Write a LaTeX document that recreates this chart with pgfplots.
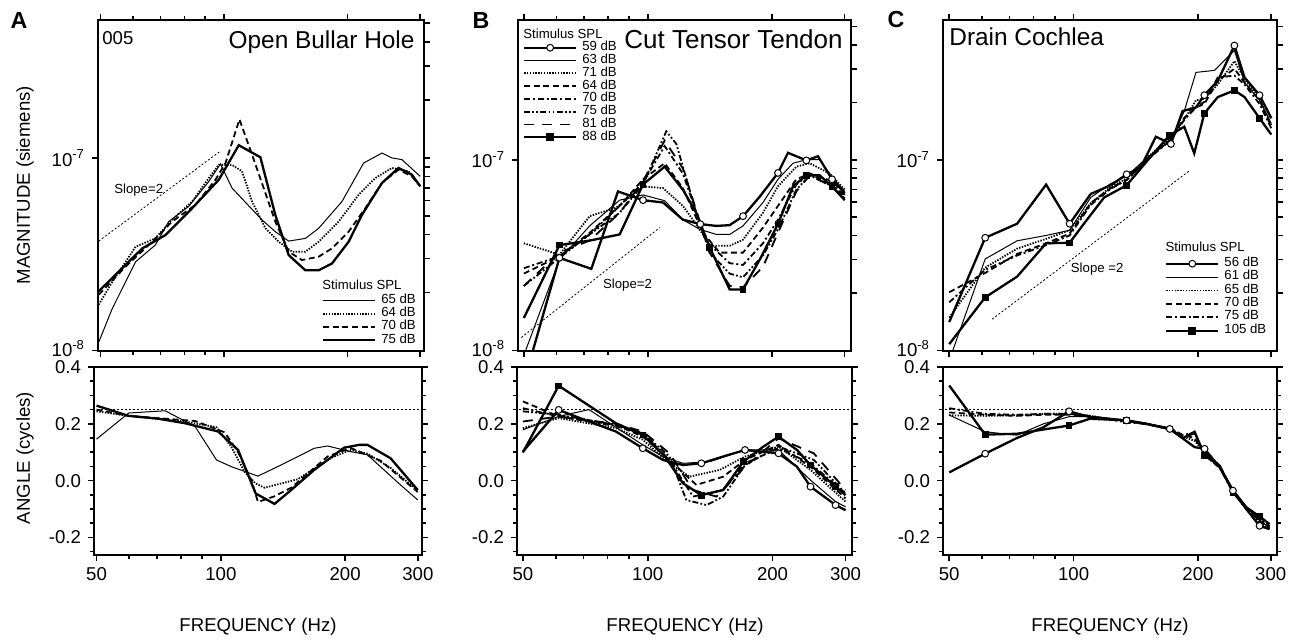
\documentclass[border=0pt]{standalone}
\usepackage{fontspec}
\setmainfont{Liberation Sans}
\usepackage{pgfplots}
\pgfplotsset{compat=1.18}
\tikzset{
  lthin/.style={black, line width=0.5pt},
  lthick/.style={black, line width=1.15pt},
  ldot/.style={black, line width=0.9pt, dash pattern=on 0.7pt off 0.7pt},
  ldash/.style={black, line width=0.9pt, dash pattern=on 3pt off 1.8pt},
  ldashdot/.style={black, line width=0.9pt, dash pattern=on 3pt off 1.4pt on 1pt off 1.4pt},
  ldashdotdot/.style={black, line width=0.9pt, dash pattern=on 3pt off 1.1pt on 0.9pt off 1.1pt on 0.9pt off 1.1pt},
  llong/.style={black, line width=0.9pt, dash pattern=on 5pt off 4pt},
  lref/.style={black, line width=0.4pt, dash pattern=on 1pt off 1pt},
}
\pgfplotsset{
  lcircm/.style={mark=*, mark size=1.7pt, mark options={solid, fill=white, line width=0.5pt}},
  lsqm/.style={mark=square*, mark size=1.4pt, mark options={solid, fill=black}},
  circleg/.style={legend image code/.code={\draw[black, line width=1.15pt] (0pt,0pt) -- (26pt,0pt); \draw[black, fill=white, line width=0.5pt] (13pt,0pt) circle[radius=1.7pt];}},
  squareleg/.style={legend image code/.code={\draw[black, line width=1.15pt] (0pt,0pt) -- (26pt,0pt); \fill[black] (11.6pt,-1.4pt) rectangle (14.4pt,1.4pt);}},
}
\begin{document}
\begin{tikzpicture}
\useasboundingbox (0pt,0pt) rectangle (652pt,319.5pt);

% ---------------- Panel A top ----------------
\begin{axis}[scale only axis, at={(49pt,144.25pt)}, anchor=south west, width=163pt, height=165.25pt,
  xmode=log, ymode=log, xmin=49.3, xmax=307, ymin=1e-8, ymax=5.2e-7,
  axis line style={line width=1pt}, tick style={black, line width=0.8pt},
  tick align=outside, major tick length=3pt, minor tick length=2pt,
  tick label style={font=\fontsize{9.3}{10}\selectfont},
  xtick={50,100,200,300}, minor xtick={60,70,80,90}, xtick pos=both, xticklabels={},
  ytick={1e-8,1e-7}, yticklabels={\raisebox{2pt}{10\textsuperscript{-8}},10\textsuperscript{-7}}, yminorticks=false, ytick pos=left,
  extra y ticks={2e-8,3e-8,4e-8,5e-8,6e-8,7e-8,8e-8,9e-8,1e-7,2e-7,3e-7,4e-7,5e-7}, extra y tick labels={},
  extra y tick style={ytick pos=right},
  legend cell align=left,
  legend image code/.code={\draw[#1] (0pt,0pt) -- (26pt,0pt);},
  legend style={draw=none, fill=none, inner sep=0pt, outer sep=0pt, font=\fontsize{6.6}{6.6}\selectfont, row sep=0pt, column sep=2.5pt, nodes={inner sep=0pt, text height=4.7pt, text depth=1.85pt}, anchor=north west, at={(0.687,0.170)}}]
\addplot[lref, forget plot] coordinates {(49.5,3.7e-8) (97.7,1.08e-7)};
\addplot[lthin] coordinates {(49.5,1.105e-8) (53.4,1.65e-8) (60.9,2.89e-8) (68.0,3.53e-8) (73.3,4.67e-8) (82.0,5.6e-8) (91.8,7.55e-8) (98.0,9.3e-8) (104.6,6.97e-8) (123.7,4.77e-8) (133.3,4.14e-8) (143.7,3.7e-8) (157.8,3.82e-8) (170.0,4.31e-8) (193.8,5.94e-8) (218.7,9.4e-8) (242.5,1.06e-7) (256.4,1.0e-7) (271.2,9.8e-8) (300.6,8.02e-8)};
\addlegendentry{65 dB}
\addplot[ldot] coordinates {(49.5,1.73e-8) (53.4,2.27e-8) (60.9,3.46e-8) (68.0,3.82e-8) (74.7,4.77e-8) (83.6,5.94e-8) (91.8,7.86e-8) (97.1,9.2e-8) (104.6,9.2e-8) (110.6,8.52e-8) (117.0,5.94e-8) (126.1,4.31e-8) (135.9,3.67e-8) (146.4,3.26e-8) (157.8,3.26e-8) (170.0,3.67e-8) (190.2,4.67e-8) (212.8,6.44e-8) (233.6,7.86e-8) (256.4,8.87e-8) (281.5,8.52e-8) (300.6,7.12e-8)};
\addlegendentry{64 dB}
\addplot[ldash] coordinates {(49.5,1.95e-8) (57.5,2.72e-8) (66.8,3.67e-8) (74.7,4.67e-8) (85.2,5.71e-8) (95.3,7.71e-8) (100.8,9.4e-8) (109.0,1.585e-7) (117.0,1.04e-7) (133.3,4.67e-8) (143.7,3.26e-8) (154.8,2.95e-8) (170.0,3.07e-8) (183.2,3.39e-8) (201.1,4.14e-8) (220.8,5.48e-8) (242.5,7.41e-8) (266.1,8.69e-8) (286.8,8.02e-8) (300.6,7.12e-8)};
\addlegendentry{70 dB}
\addplot[lthick] coordinates {(49.5,2.03e-8) (57.5,2.78e-8) (63.2,3.39e-8) (72.0,3.98e-8) (83.6,5.48e-8) (97.1,7.71e-8) (108.6,1.164e-7) (122.6,1.008e-7) (133.3,5.06e-8) (143.7,3.13e-8) (157.8,2.61e-8) (170.0,2.61e-8) (183.2,2.83e-8) (201.1,3.67e-8) (216.7,5.06e-8) (242.5,7.41e-8) (266.1,8.87e-8) (286.8,8.18e-8) (300.6,7.12e-8)};
\addlegendentry{75 dB}
\node[font=\fontsize{6.6}{7}\selectfont, anchor=base west, inner sep=0pt] at (rel axis cs:0.687,0.184) {Stimulus SPL};
\node[font=\fontsize{6.6}{7}\selectfont, anchor=base west, inner sep=0pt] at (axis cs:53.9,6.57e-8) {Slope=2};
\node[font=\fontsize{9.3}{10}\selectfont, anchor=base west, inner sep=0pt] at (rel axis cs:0.012,0.927) {005};
\node[font=\fontsize{12.2}{13}\selectfont, anchor=base east, inner sep=0pt] at (rel axis cs:0.972,0.914) {Open Bullar Hole};
\end{axis}

% ---------------- Panel A bottom ----------------
\begin{axis}[scale only axis, at={(47pt,42.25pt)}, anchor=south west, width=164pt, height=93.75pt,
  xmode=log, xmin=49.3, xmax=307, ymin=-0.26, ymax=0.4,
  axis line style={line width=1pt}, tick style={black, line width=0.8pt},
  tick align=outside, major tick length=3pt, minor tick length=2pt,
  tick label style={font=\fontsize{9.3}{10}\selectfont},
  xtick={50,100,200,300}, minor xtick={60,70,80,90}, xtick pos=bottom, xticklabels={50,100,200,300},
  ytick={-0.2,0,0.2,0.4}, yticklabels={-0.2,0.0,0.2,0.4},
  minor ytick={-0.25,-0.15,-0.1,-0.05,0.05,0.1,0.15,0.25,0.3,0.35}, ytick pos=both, yticklabel pos=left]
\addplot[lref] coordinates {(40,0.25) (320,0.25)};
\addplot[lthin] coordinates {(50,0.146) (59.8,0.238) (73.3,0.246) (86.6,0.191) (97.6,0.073) (106.1,0.049) (123.0,0.016) (142.6,0.061) (168.4,0.114) (181.4,0.122) (206.4,0.102) (226.4,0.091) (272.3,-0.015) (299.8,-0.068)};
\addplot[ldot] coordinates {(50,0.244) (59.8,0.228) (81.9,0.208) (97.6,0.188) (106.1,0.118) (114.3,0.03) (121.4,-0.01) (127.6,-0.025) (153.6,0.005) (184.7,0.08) (206.4,0.108) (226.4,0.095) (257.6,0.045) (299.8,-0.035)};
\addplot[ldash] coordinates {(50,0.25) (59.8,0.228) (86.6,0.21) (102.2,0.17) (110.1,0.10) (118.6,0.0) (123.0,-0.075) (134.9,-0.055) (148.0,-0.025) (181.4,0.085) (206.4,0.115) (243.8,0.07) (299.8,-0.04)};
\addplot[lthick] coordinates {(50,0.264) (59.8,0.228) (70.6,0.218) (81.9,0.202) (98.5,0.173) (110.1,0.108) (121.4,-0.045) (134.9,-0.082) (148.0,-0.033) (168.4,0.038) (198.9,0.116) (216.2,0.126) (226.4,0.126) (257.6,0.079) (299.8,-0.033)};
\end{axis}

% ---------------- Panel B top ----------------
\begin{axis}[scale only axis, at={(259pt,144.25pt)}, anchor=south west, width=166.5pt, height=165.25pt,
  xmode=log, ymode=log, xmin=48.4, xmax=311, ymin=1e-8, ymax=5.4e-7,
  axis line style={line width=1pt}, tick style={black, line width=0.8pt},
  tick align=outside, major tick length=3pt, minor tick length=2pt,
  tick label style={font=\fontsize{9.3}{10}\selectfont},
  xtick={50,100,200,300}, minor xtick={60,70,80,90}, xtick pos=both, xticklabels={},
  ytick={1e-8,1e-7}, yticklabels={\raisebox{2pt}{10\textsuperscript{-8}},10\textsuperscript{-7}}, yminorticks=false, ytick pos=left,
  extra y ticks={2e-8,3e-8,4e-8,5e-8,6e-8,7e-8,8e-8,9e-8,1e-7,2e-7,3e-7,4e-7,5e-7}, extra y tick labels={},
  extra y tick style={ytick pos=right},
  legend cell align=left,
  legend image code/.code={\draw[#1] (0pt,0pt) -- (26pt,0pt);},
  legend style={draw=none, fill=none, inner sep=0pt, outer sep=0pt, font=\fontsize{6.6}{6.6}\selectfont, row sep=0pt, column sep=2.5pt, nodes={inner sep=0pt, text height=4.7pt, text depth=1.7pt}, anchor=north west, at={(0.015,0.9356)}}]
\addplot[lref, forget plot] coordinates {(49.3,1.17e-8) (106.8,4.41e-8)};
\addplot[lthick, circleg] coordinates {(52.6,1.0e-8) (61.0,3.06e-8) (72.9,2.68e-8) (84.6,6.82e-8) (97.3,6.14e-8) (108.8,5.97e-8) (121.6,4.85e-8) (134.0,4.6e-8) (146.5,4.5e-8) (157.9,4.54e-8) (170.1,5.06e-8) (186.7,6.4e-8) (206.8,8.53e-8) (218.7,1.087e-7) (242.3,9.92e-8) (258.6,1.043e-7) (279.7,7.9e-8) (300.2,6.68e-8)};
\addlegendentry{59 dB}
\addplot[lthin] coordinates {(50.5,1.0e-8) (61.0,2.99e-8) (72.2,4.5e-8) (85.4,6.14e-8) (97.3,6.54e-8) (109.8,6.1e-8) (121.6,4.85e-8) (133.5,4.32e-8) (146.5,4.06e-8) (157.9,4.06e-8) (170.1,4.5e-8) (190.2,5.97e-8) (206.8,7.9e-8) (224.9,9.59e-8) (242.3,1.0e-7) (261.0,1.0e-7) (279.7,8.11e-8) (300.2,6.82e-8)};
\addlegendentry{63 dB}
\addplot[ldot] coordinates {(50,3.65e-8) (61.0,3.18e-8) (72.2,5.06e-8) (83.8,5.61e-8) (97.3,7.26e-8) (108.8,7.1e-8) (121.6,5.73e-8) (133.5,4.32e-8) (141.2,3.54e-8) (157.9,3.54e-8) (170.1,3.81e-8) (190.2,5.27e-8) (206.8,7.26e-8) (229.1,9.2e-8) (246.9,9.59e-8) (276.1,8.46e-8) (300.2,6.96e-8)};
\addlegendentry{71 dB}
\addplot[ldash] coordinates {(50,2.53e-8) (61.0,3.12e-8) (72.2,4.14e-8) (85.4,5.73e-8) (97.3,7.9e-8) (109.8,9.59e-8) (121.6,7.1e-8) (136.0,4.14e-8) (149.3,3.26e-8) (170.1,3.26e-8) (190.2,4.41e-8) (206.8,5.73e-8) (229.1,7.9e-8) (246.9,8.46e-8) (279.7,7.73e-8) (300.2,6.54e-8)};
\addlegendentry{64 dB}
\addplot[ldashdot] coordinates {(50,2.7e-8) (61.0,3.12e-8) (72.2,4.06e-8) (85.4,5.73e-8) (97.3,7.57e-8) (109.8,1.18e-7) (121.6,8.46e-8) (138.6,3.72e-8) (157.9,2.87e-8) (170.1,2.81e-8) (190.2,3.65e-8) (206.8,4.85e-8) (229.1,7.42e-8) (246.9,8.39e-8) (279.7,7.42e-8) (300.2,6.4e-8)};
\addlegendentry{70 dB}
\addplot[ldashdotdot] coordinates {(50,2.18e-8) (61.0,3.06e-8) (72.2,4.06e-8) (85.4,5.27e-8) (97.3,7.42e-8) (110.8,1.41e-7) (117.2,1.21e-7) (131.0,5.27e-8) (141.2,3.26e-8) (157.9,2.53e-8) (170.1,2.42e-8) (190.2,3.15e-8) (206.8,4.32e-8) (229.1,6.96e-8) (246.9,8.28e-8) (279.7,7.26e-8) (300.2,6.27e-8)};
\addlegendentry{75 dB}
\addplot[llong] coordinates {(50,2.18e-8) (61.0,3.26e-8) (72.2,3.77e-8) (85.4,5.27e-8) (97.3,7.73e-8) (109.8,1.26e-7) (121.6,9.0e-8) (141.2,3.26e-8) (157.9,2.18e-8) (170.1,2.14e-8) (190.2,2.75e-8) (206.8,4.14e-8) (229.1,6.82e-8) (246.9,8.28e-8) (279.7,7.26e-8) (300.2,6.14e-8)};
\addlegendentry{81 dB}
\addplot[lthick, squareleg] coordinates {(50,1.48e-8) (61.0,3.57e-8) (72.2,3.77e-8) (85.4,4.06e-8) (97.3,7.42e-8) (109.8,9.2e-8) (121.6,6.96e-8) (131.0,5.27e-8) (141.2,3.47e-8) (157.9,2.09e-8) (170.1,2.09e-8) (186.7,2.99e-8) (206.8,4.6e-8) (224.9,7.26e-8) (242.3,8.28e-8) (261.0,8.28e-8) (279.7,7.26e-8) (300.2,6.14e-8)};
\addlegendentry{88 dB}
\addplot[lcircm, only marks, forget plot] coordinates {(61.0,3.06e-8) (97.3,6.14e-8) (134.0,4.6e-8) (170.1,5.06e-8) (206.8,8.53e-8) (242.3,9.92e-8) (279.7,7.9e-8)};
\addplot[lsqm, only marks, forget plot] coordinates {(61.0,3.57e-8) (97.3,7.42e-8) (141.2,3.47e-8) (170.1,2.09e-8) (206.8,4.6e-8) (242.3,8.28e-8) (279.7,7.26e-8)};
\node[font=\fontsize{6.6}{7}\selectfont, anchor=base west, inner sep=0pt] at (rel axis cs:0.015,0.944) {Stimulus SPL};
\node[font=\fontsize{6.6}{7}\selectfont, anchor=base west, inner sep=0pt] at (axis cs:77.7,2.11e-8) {Slope=2};
\node[font=\fontsize{13}{14}\selectfont, anchor=base east, inner sep=0pt] at (rel axis cs:0.976,0.914) {Cut Tensor Tendon};
\end{axis}

% ---------------- Panel B bottom ----------------
\begin{axis}[scale only axis, at={(258.5pt,42.25pt)}, anchor=south west, width=167.5pt, height=93.75pt,
  xmode=log, xmin=48.4, xmax=311, ymin=-0.26, ymax=0.4,
  axis line style={line width=1pt}, tick style={black, line width=0.8pt},
  tick align=outside, major tick length=3pt, minor tick length=2pt,
  tick label style={font=\fontsize{9.3}{10}\selectfont},
  xtick={50,100,200,300}, minor xtick={60,70,80,90}, xtick pos=bottom, xticklabels={50,100,200,300},
  ytick={-0.2,0,0.2,0.4}, yticklabels={-0.2,0.0,0.2,0.4},
  minor ytick={-0.25,-0.15,-0.1,-0.05,0.05,0.1,0.15,0.25,0.3,0.35}, ytick pos=both, yticklabel pos=left]
\addplot[lref] coordinates {(40,0.25) (320,0.25)};
\addplot[lthin] coordinates {(50,0.179) (61.0,0.226) (72.2,0.25) (97.3,0.126) (108.8,0.085) (121.6,0.061) (141.2,0.067) (171.7,0.108) (206.8,0.108) (246.9,0.002) (283.9,-0.074) (300,-0.092)};
\addplot[ldot] coordinates {(50,0.185) (61.0,0.22) (83.8,0.185) (97.3,0.144) (112.9,0.061) (126.2,0.014) (149.3,0.038) (171.7,0.085) (206.8,0.12) (246.9,0.038) (300,-0.074)};
\addplot[ldash] coordinates {(50,0.279) (61.0,0.226) (83.8,0.196) (97.3,0.155) (112.9,0.073) (131.0,-0.015) (152.1,0.014) (171.7,0.073) (206.8,0.126) (246.9,0.049) (300,-0.062)};
\addplot[ldashdot] coordinates {(50,0.255) (61.0,0.226) (83.8,0.192) (97.3,0.167) (112.9,0.073) (128.6,-0.056) (152.1,-0.033) (171.7,0.061) (206.8,0.114) (246.9,0.061) (300,-0.045)};
\addplot[ldashdotdot] coordinates {(50,0.244) (61.0,0.232) (83.8,0.196) (97.3,0.167) (112.9,0.085) (123.9,-0.068) (138.6,-0.086) (152.1,-0.056) (171.7,0.055) (206.8,0.12) (251.6,0.073) (300,-0.045)};
\addplot[llong] coordinates {(50,0.208) (61.0,0.226) (83.8,0.2) (97.3,0.173) (112.9,0.096) (128.6,-0.033) (146.5,-0.056) (171.7,0.049) (206.8,0.149) (251.6,0.096) (300,-0.033)};
\addplot[lthick] coordinates {(50,0.102) (61.0,0.249) (72.2,0.208) (83.8,0.173) (97.3,0.114) (108.8,0.073) (121.6,0.055) (134.7,0.061) (152.1,0.085) (171.7,0.108) (206.8,0.096) (229.1,0.049) (246.9,-0.021) (283.9,-0.086) (300,-0.104)};
\addplot[lthick] coordinates {(50,0.099) (61.0,0.334) (83.8,0.202) (97.3,0.161) (109.8,0.087) (121.6,-0.009) (134.7,-0.051) (152.1,-0.033) (170.1,0.067) (190.2,0.12) (206.8,0.155) (229.1,0.108) (246.9,0.055) (283.9,-0.021) (300,-0.051)};
\addplot[lcircm, only marks] coordinates {(61.0,0.249) (97.3,0.114) (134.7,0.061) (171.7,0.108) (206.8,0.096) (246.9,-0.021) (283.9,-0.086)};
\addplot[lsqm, only marks] coordinates {(61.0,0.334) (97.3,0.161) (134.7,-0.051) (170.1,0.067) (206.8,0.155) (246.9,0.055) (283.9,-0.021)};
\end{axis}

% ---------------- Panel C top ----------------
\begin{axis}[scale only axis, at={(471.5pt,144.25pt)}, anchor=south west, width=167pt, height=165.25pt,
  xmode=log, ymode=log, xmin=48.3, xmax=310.7, ymin=1e-8, ymax=5.4e-7,
  axis line style={line width=1pt}, tick style={black, line width=0.8pt},
  tick align=outside, major tick length=3pt, minor tick length=2pt,
  tick label style={font=\fontsize{9.3}{10}\selectfont},
  xtick={50,100,200,300}, minor xtick={60,70,80,90}, xtick pos=both, xticklabels={},
  ytick={1e-8,1e-7}, yticklabels={\raisebox{2pt}{10\textsuperscript{-8}},10\textsuperscript{-7}}, yminorticks=false, ytick pos=left,
  extra y ticks={2e-8,3e-8,4e-8,5e-8,6e-8,7e-8,8e-8,9e-8,1e-7,2e-7,3e-7,4e-7,5e-7}, extra y tick labels={},
  extra y tick style={ytick pos=right},
  legend cell align=left,
  legend image code/.code={\draw[#1] (0pt,0pt) -- (26pt,0pt);},
  legend style={draw=none, fill=none, inner sep=0pt, outer sep=0pt, font=\fontsize{6.6}{6.6}\selectfont, row sep=0pt, column sep=2.5pt, nodes={inner sep=0pt, text height=4.7pt, text depth=2.0pt}, anchor=north west, at={(0.665,0.283)}}]
\addplot[lref, forget plot] coordinates {(63.5,1.46e-8) (190.5,8.74e-8)};
\addplot[lthick, circleg] coordinates {(50,1.41e-8) (61.1,3.9e-8) (73.0,4.62e-8) (85.8,7.41e-8) (97.8,4.62e-8) (110.0,6.62e-8) (123.0,7.35e-8) (134.4,8.39e-8) (145.4,9.12e-8) (158.1,1.32e-7) (165.7,1.26e-7) (172.0,1.21e-7) (183.5,1.80e-7) (197.8,1.88e-7) (207.2,2.18e-7) (223.3,2.59e-7) (245.0,3.97e-7) (259.2,2.70e-7) (281.9,2.18e-7) (300.9,1.65e-7)};
\addlegendentry{56 dB}
\addplot[lthin] coordinates {(51.0,1.0e-8) (61.1,3.02e-8) (73.0,3.76e-8) (85.8,4.01e-8) (97.8,4.27e-8) (110.0,6.34e-8) (123.0,7.5e-8) (134.4,8.21e-8) (150.9,1.03e-7) (172.0,1.26e-7) (185.3,1.80e-7) (197.8,2.87e-7) (219.2,2.94e-7) (245.0,3.74e-7) (259.2,2.54e-7) (281.9,2.05e-7) (300.9,1.55e-7)};
\addlegendentry{61 dB}
\addplot[ldot] coordinates {(50,1.49e-8) (61.1,2.72e-8) (73.0,3.42e-8) (85.8,3.85e-8) (97.8,4.27e-8) (110.0,5.92e-8) (123.0,7.2e-8) (134.4,7.99e-8) (150.9,1.03e-7) (172.0,1.31e-7) (185.3,1.62e-7) (197.8,2.05e-7) (207.2,2.09e-7) (223.3,2.48e-7) (245.0,3.29e-7) (259.2,2.65e-7) (281.9,2.09e-7) (300.9,1.52e-7)};
\addlegendentry{65 dB}
\addplot[ldash] coordinates {(50,2.02e-8) (61.1,2.55e-8) (73.0,3.21e-8) (85.8,3.65e-8) (97.8,4.1e-8) (110.0,5.92e-8) (123.0,7.1e-8) (134.4,7.83e-8) (150.9,1.01e-7) (172.0,1.28e-7) (185.3,1.66e-7) (197.8,1.88e-7) (207.2,1.96e-7) (223.3,2.59e-7) (245.0,3.0e-7) (259.2,2.54e-7) (281.9,2.05e-7) (300.9,1.49e-7)};
\addlegendentry{70 dB}
\addplot[ldashdot] coordinates {(50,1.79e-8) (61.1,2.65e-8) (73.0,3.15e-8) (85.8,3.57e-8) (97.8,4.01e-8) (110.0,5.8e-8) (123.0,7.04e-8) (134.4,7.83e-8) (150.9,1.0e-7) (172.0,1.27e-7) (185.3,1.62e-7) (197.8,1.88e-7) (207.2,2.01e-7) (223.3,2.7e-7) (245.0,2.76e-7) (259.2,2.48e-7) (281.9,1.96e-7) (300.9,1.46e-7)};
\addlegendentry{75 dB}
\addplot[lthick, squareleg] coordinates {(50,1.08e-8) (61.1,1.9e-8) (73.0,2.44e-8) (85.8,3.65e-8) (97.8,3.67e-8) (105.9,4.62e-8) (118.5,6.34e-8) (134.4,7.35e-8) (150.9,9.9e-8) (170.4,1.34e-7) (185.3,1.49e-7) (195.9,1.08e-7) (207.2,1.75e-7) (223.3,2.13e-7) (245.0,2.31e-7) (259.2,2.13e-7) (281.9,1.65e-7) (300.9,1.355e-7)};
\addlegendentry{105 dB}
\addplot[lcircm, only marks, forget plot] coordinates {(61.1,3.9e-8) (97.8,4.62e-8) (134.4,8.39e-8) (172.0,1.21e-7) (207.2,2.18e-7) (245.0,3.97e-7) (281.9,2.18e-7)};
\addplot[lsqm, only marks, forget plot] coordinates {(61.1,1.9e-8) (97.8,3.67e-8) (134.4,7.35e-8) (170.4,1.34e-7) (207.2,1.75e-7) (245.0,2.31e-7) (281.9,1.65e-7)};
\node[font=\fontsize{6.6}{7}\selectfont, anchor=base west, inner sep=0pt] at (rel axis cs:0.665,0.300) {Stimulus SPL};
\node[font=\fontsize{6.6}{7}\selectfont, anchor=base west, inner sep=0pt] at (axis cs:98.3,2.56e-8) {Slope =2};
\node[font=\fontsize{12.2}{13}\selectfont, anchor=base west, inner sep=0pt] at (rel axis cs:0.018,0.924) {Drain Cochlea};
\end{axis}

% ---------------- Panel C bottom ----------------
\begin{axis}[scale only axis, at={(471.5pt,42.25pt)}, anchor=south west, width=167pt, height=93.75pt,
  xmode=log, xmin=48.3, xmax=310.7, ymin=-0.26, ymax=0.4,
  axis line style={line width=1pt}, tick style={black, line width=0.8pt},
  tick align=outside, major tick length=3pt, minor tick length=2pt,
  tick label style={font=\fontsize{9.3}{10}\selectfont},
  xtick={50,100,200,300}, minor xtick={60,70,80,90}, xtick pos=bottom, xticklabels={50,100,200,300},
  ytick={-0.2,0,0.2,0.4}, yticklabels={-0.2,0.0,0.2,0.4},
  minor ytick={-0.25,-0.15,-0.1,-0.05,0.05,0.1,0.15,0.25,0.3,0.35}, ytick pos=both, yticklabel pos=left]
\addplot[lref] coordinates {(40,0.25) (320,0.25)};
\addplot[lthin] coordinates {(50,0.231) (61.1,0.172) (72.9,0.160) (84.5,0.2) (97.5,0.225) (109.5,0.225) (134.3,0.21) (150.1,0.2) (170.9,0.185) (184.0,0.15) (196.3,0.165) (207.5,0.1) (225.6,0.05) (243.0,-0.03) (261.7,-0.09) (281.9,-0.14) (298.0,-0.165)};
\addplot[ldot] coordinates {(50,0.23) (61.1,0.228) (72.9,0.23) (84.5,0.235) (97.5,0.235) (109.5,0.228) (134.3,0.21) (150.1,0.2) (170.9,0.185) (184.0,0.155) (196.3,0.14) (207.5,0.1) (225.6,0.05) (243.0,-0.035) (261.7,-0.095) (281.9,-0.145) (298.0,-0.17)};
\addplot[ldash] coordinates {(50,0.24) (61.1,0.232) (72.9,0.228) (84.5,0.232) (97.5,0.232) (109.5,0.226) (134.3,0.21) (150.1,0.198) (170.9,0.185) (184.0,0.16) (196.3,0.15) (207.5,0.095) (225.6,0.055) (243.0,-0.04) (261.7,-0.1) (281.9,-0.14) (298.0,-0.165)};
\addplot[ldashdot] coordinates {(50,0.255) (61.1,0.235) (72.9,0.232) (84.5,0.235) (97.5,0.235) (109.5,0.228) (134.3,0.205) (150.1,0.2) (170.9,0.18) (184.0,0.16) (196.3,0.17) (207.5,0.09) (225.6,0.045) (243.0,-0.04) (261.7,-0.1) (281.9,-0.13) (298.0,-0.16)};
\addplot[lthick] coordinates {(50,0.335) (61.1,0.162) (72.9,0.165) (84.5,0.18) (97.5,0.194) (109.5,0.218) (134.3,0.212) (150.1,0.2) (170.9,0.182) (184.0,0.15) (196.3,0.172) (207.5,0.088) (225.6,0.053) (243.0,-0.041) (261.7,-0.094) (281.9,-0.126) (298.0,-0.153)};
\addplot[lthick] coordinates {(50,0.029) (61.1,0.095) (72.9,0.15) (84.5,0.188) (97.5,0.244) (109.5,0.224) (134.3,0.212) (150.1,0.2) (170.9,0.182) (196.3,0.118) (207.5,0.112) (225.6,0.047) (243.0,-0.035) (261.7,-0.1) (281.9,-0.159) (298.0,-0.171)};
\addplot[lsqm, only marks] coordinates {(61.1,0.162) (97.5,0.194) (134.3,0.212) (170.9,0.182) (207.5,0.088) (243.0,-0.041) (281.9,-0.126)};
\addplot[lcircm, only marks] coordinates {(61.1,0.095) (97.5,0.244) (134.3,0.212) (170.9,0.182) (207.5,0.112) (243.0,-0.035) (281.9,-0.159)};
\end{axis}

% ---------------- labels ----------------
\node[font=\bfseries\fontsize{11.6}{12}\selectfont] at (9.5pt,309pt) {A};
\node[font=\bfseries\fontsize{11.6}{12}\selectfont] at (240.5pt,309pt) {B};
\node[font=\bfseries\fontsize{11.6}{12}\selectfont] at (448pt,309.5pt) {C};
\node[font=\fontsize{9.3}{10}\selectfont, rotate=90] at (12.5pt,226.9pt) {MAGNITUDE (siemens)};
\node[font=\fontsize{9.3}{10}\selectfont, rotate=90] at (12.5pt,90.5pt) {ANGLE (cycles)};
\node[font=\fontsize{9.3}{10}\selectfont] at (129pt,6pt) {FREQUENCY (Hz)};
\node[font=\fontsize{9.3}{10}\selectfont] at (342.5pt,6pt) {FREQUENCY (Hz)};
\node[font=\fontsize{9.3}{10}\selectfont] at (555pt,6pt) {FREQUENCY (Hz)};
\end{tikzpicture}
\end{document}
